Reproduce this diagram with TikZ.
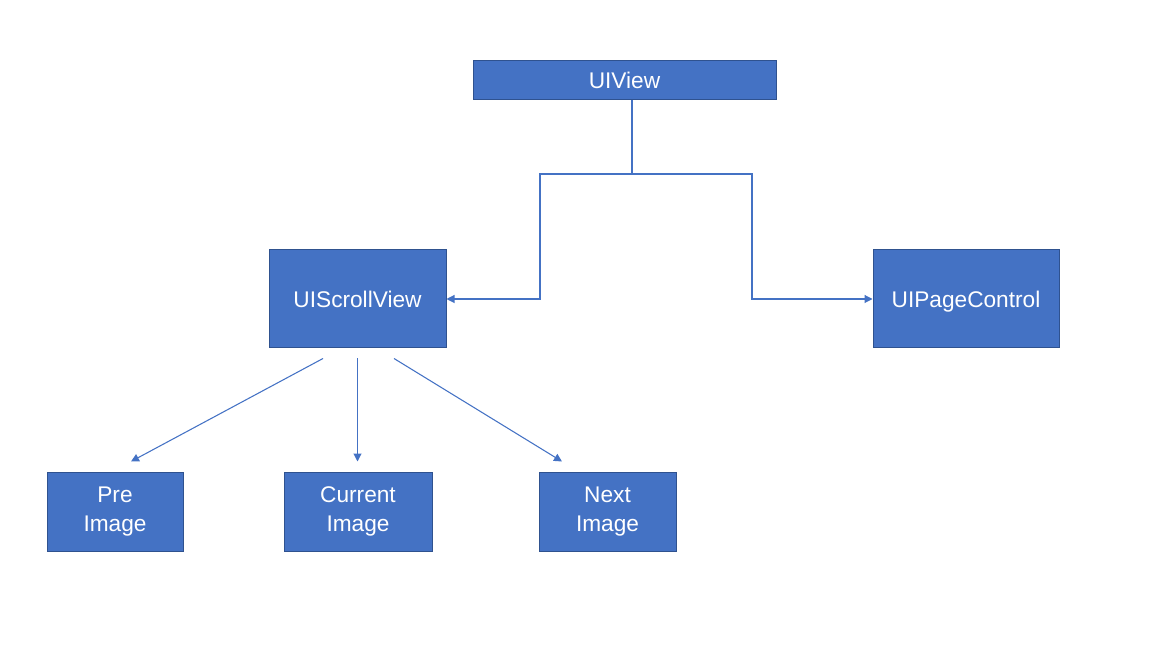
\documentclass[tikz,border=0pt]{standalone}
\usepackage{fontspec}
\setmainfont{Liberation Sans}
\usetikzlibrary{arrows.meta}
\usetikzlibrary{calc}
\definecolor{boxblue}{HTML}{4472C4}
\definecolor{boxedge}{HTML}{2F528F}
\tikzset{
    viewbox/.style={
        rectangle, fill=boxblue, draw=boxedge, line width=0.75pt,
        text=white, inner sep=0pt, align=center,
        font=\fontsize{17}{21.75}\selectfont
    },
    link/.style={draw=boxblue, line width=0.8pt},
    linkarrow/.style={link, -{Triangle[length=6pt,width=6pt]}}
}

\begin{document}
\begin{tikzpicture}[x=0.75pt,y=-0.75pt]
	\useasboundingbox (0,0) rectangle (1153,648);

	\node[viewbox,minimum width=303*0.75pt,minimum height=39*0.75pt] (uiview) at (624.5,80.5) {UIView};
	\node[viewbox,minimum width=177*0.75pt,minimum height=98*0.75pt] (scroll) at (357.5,299) {UIScrollView};
	\node[viewbox,minimum width=186*0.75pt,minimum height=98*0.75pt,text depth=0pt] (page) at (966,299) {UIPageControl};
	\node[viewbox,minimum width=136*0.75pt,minimum height=79*0.75pt] (pre) at (115,511.5) {Pre\\Image};
	\node[viewbox,minimum width=148*0.75pt,minimum height=79*0.75pt] (current) at (358,511.5) {Current\\Image};
	\node[viewbox,minimum width=137*0.75pt,minimum height=79*0.75pt] (next) at (607.5,511.5) {Next\\Image};

	\coordinate (fork) at (632,174);
	\coordinate (leftbend) at (540,174);
	\coordinate (rightbend) at (752,174);

	\draw[link] (uiview.south -| fork) -- (fork);
	\draw[linkarrow] (fork) -- (leftbend) |- (scroll.east);
	\draw[linkarrow] (fork) -- (rightbend) |- (page.west);

	\draw[linkarrow] ($(scroll.south)+(-34.5,10)$) -- ($(pre.north)+(16,-10)$);
	\draw[linkarrow] ($(scroll.south)+(0,10)$) -- ($(scroll.south |- current.north)+(0,-10)$);
	\draw[linkarrow] ($(scroll.south)+(36.5,10)$) -- ($(next.north)+(-45.5,-10)$);
\end{tikzpicture}
\end{document}
